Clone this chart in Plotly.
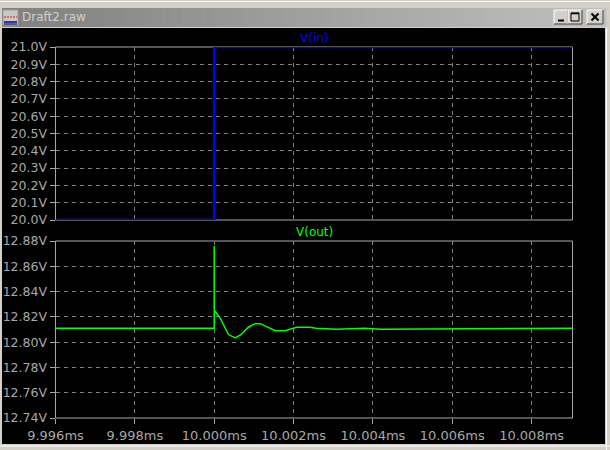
import plotly.graph_objects as go

# ---------------- data ----------------
t_in = [9.996, 10.0, 10.0, 10.00903]          # ms
v_in = [20.0, 20.0, 21.0, 21.0]               # V

t_out = [9.996, 10.0, 10.0, 10.0, 10.00003, 10.00015, 10.00028, 10.00036,
         10.00053, 10.00066, 10.00086, 10.00103, 10.00116, 10.00133,
         10.00154, 10.00179, 10.00200, 10.00208, 10.00242, 10.00257,
         10.00309, 10.00378, 10.00421, 10.00903]
v_out = [12.811, 12.811, 12.876, 12.825, 12.824, 12.819, 12.811, 12.806,
         12.8033, 12.8057, 12.8118, 12.8146, 12.8146, 12.8123,
         12.8091, 12.8091, 12.811, 12.8118, 12.8118, 12.811,
         12.8102, 12.811, 12.8102, 12.811]

x_tickvals = [9.996, 9.998, 10.000, 10.002, 10.004, 10.006, 10.008]
x_ticktext = ["9.996ms", "9.998ms", "10.000ms", "10.002ms", "10.004ms",
              "10.006ms", "10.008ms"]
yin_tickvals = [20.0, 20.1, 20.2, 20.3, 20.4, 20.5, 20.6, 20.7, 20.8, 20.9, 21.0]
yin_ticktext = ["20.0V", "20.1V", "20.2V", "20.3V", "20.4V", "20.5V",
                "20.6V", "20.7V", "20.8V", "20.9V", "21.0V"]
yout_tickvals = [12.74, 12.76, 12.78, 12.80, 12.82, 12.84, 12.86, 12.88]
yout_ticktext = ["12.74V", "12.76V", "12.78V", "12.80V", "12.82V",
                 "12.84V", "12.86V", "12.88V"]

W, H = 610, 450
FONT = "DejaVu Sans"
LBL = "#A8A8A8"
GRID = "#808080"


def fx(x):
    return x / W


def fy(y):
    return 1 - y / H


fig = go.Figure()
fig.add_trace(go.Scatter(x=t_in, y=v_in, mode="lines",
                         line=dict(color="#0000FF", width=2.5),
                         xaxis="x", yaxis="y", showlegend=False))
fig.add_trace(go.Scatter(x=t_out, y=v_out, mode="lines",
                         line=dict(color="#00FF00", width=1.5),
                         xaxis="x2", yaxis="y2", showlegend=False))

PL, PR = 55.5, 572.5
T1, B1 = 47, 220
T2, B2 = 241, 418
xdom = [fx(PL), fx(PR)]
common_x = dict(range=[9.996, 10.00903], domain=xdom, tickvals=x_tickvals,
                showgrid=True, gridcolor=GRID, griddash="4px,4px", gridwidth=1,
                showline=False, zeroline=False, automargin=False,
                tickfont=dict(family=FONT, size=13, color=LBL))
common_y = dict(showgrid=True, gridcolor=GRID, griddash="4px,4px", gridwidth=1,
                showline=False, zeroline=False, ticks="outside",
                ticklen=5, tickcolor=LBL, automargin=False,
                tickfont=dict(family=FONT, size=12.5, color=LBL))

fig.update_layout(
    width=W, height=H, autosize=False,
    margin=dict(l=0, r=0, t=0, b=0, pad=0),
    paper_bgcolor="#D4D0C8",
    plot_bgcolor="rgba(0,0,0,0)",
    xaxis=dict(common_x, anchor="y", showticklabels=False, ticks=""),
    yaxis=dict(common_y, anchor="x", domain=[fy(B1), fy(T1)], range=[20.0, 21.0],
               tickvals=yin_tickvals, ticktext=yin_ticktext),
    xaxis2=dict(common_x, anchor="y2", ticktext=x_ticktext, ticks="outside",
                ticklen=5, tickcolor=LBL),
    yaxis2=dict(common_y, anchor="x2", domain=[fy(B2), fy(T2)], range=[12.74, 12.88],
                tickvals=yout_tickvals, ticktext=yout_ticktext),
)

shapes = []
# black client area
shapes.append(dict(type="rect", xref="paper", yref="paper", layer="below",
                   x0=fx(2), x1=fx(605), y0=fy(444), y1=fy(28),
                   fillcolor="#000000", line=dict(width=0)))
# plot frames (drawn below traces)
for t, b in [(T1, B1), (T2, B2)]:
    shapes.append(dict(type="rect", xref="paper", yref="paper", layer="below",
                       x0=fx(PL), x1=fx(PR), y0=fy(b), y1=fy(t),
                       line=dict(color=LBL, width=1)))
# window frame highlight lines
shapes.append(dict(type="line", xref="paper", yref="paper", layer="below",
                   x0=0, x1=1, y0=fy(1.5), y1=fy(1.5),
                   line=dict(color="#FFFFFF", width=1)))
shapes.append(dict(type="line", xref="paper", yref="paper", layer="below",
                   x0=0, x1=1, y0=fy(446), y1=fy(446),
                   line=dict(color="#FFFFFF", width=1)))
shapes.append(dict(type="line", xref="paper", yref="paper", layer="below",
                   x0=fx(606.5), x1=fx(606.5), y0=0, y1=fy(28),
                   line=dict(color="#FFFFFF", width=1)))
# title bar gradient (inactive window)
n = 60
x_start, x_end = 2, 606
for i in range(n):
    a = i / (n - 1)
    c = int(128 + (192 - 128) * a)
    xa = x_start + (x_end - x_start) * i / n
    xb = x_start + (x_end - x_start) * (i + 1) / n + 0.5
    shapes.append(dict(type="rect", xref="paper", yref="paper", layer="below",
                       x0=fx(xa), x1=fx(xb), y0=fy(27), y1=fy(8),
                       fillcolor=f"rgb({c},{c},{c})", line=dict(width=0)))
# window buttons
for bx0, bx1 in [(554, 568), (568, 582), (587, 603)]:
    shapes.append(dict(type="rect", xref="paper", yref="paper", layer="above",
                       x0=fx(bx0), x1=fx(bx1), y0=fy(24), y1=fy(10),
                       fillcolor="#D4D0C8", line=dict(width=0)))
    shapes.append(dict(type="path", xref="paper", yref="paper", layer="above",
                       path=f"M {fx(bx0)},{fy(24)} L {fx(bx0)},{fy(10)} L {fx(bx1)},{fy(10)}",
                       line=dict(color="#FFFFFF", width=1)))
    shapes.append(dict(type="path", xref="paper", yref="paper", layer="above",
                       path=f"M {fx(bx0)},{fy(24)} L {fx(bx1)},{fy(24)} L {fx(bx1)},{fy(10)}",
                       line=dict(color="#404040", width=1)))
# minimize glyph
shapes.append(dict(type="line", xref="paper", yref="paper", layer="above",
                   x0=fx(558), x1=fx(564), y0=fy(20.5), y1=fy(20.5),
                   line=dict(color="#000000", width=2)))
# maximize glyph
shapes.append(dict(type="rect", xref="paper", yref="paper", layer="above",
                   x0=fx(571), x1=fx(579), y0=fy(21), y1=fy(13),
                   line=dict(color="#000000", width=1)))
shapes.append(dict(type="line", xref="paper", yref="paper", layer="above",
                   x0=fx(571), x1=fx(579), y0=fy(13.5), y1=fy(13.5),
                   line=dict(color="#000000", width=1.5)))
# close glyph
shapes.append(dict(type="line", xref="paper", yref="paper", layer="above",
                   x0=fx(591.5), x1=fx(598.5), y0=fy(13.5), y1=fy(20.5),
                   line=dict(color="#000000", width=2)))
shapes.append(dict(type="line", xref="paper", yref="paper", layer="above",
                   x0=fx(591.5), x1=fx(598.5), y0=fy(20.5), y1=fy(13.5),
                   line=dict(color="#000000", width=2)))
# icon
shapes.append(dict(type="rect", xref="paper", yref="paper", layer="above",
                   x0=fx(3), x1=fx(18), y0=fy(25), y1=fy(10),
                   fillcolor="#C8C8C8", line=dict(color="#9A9A9A", width=1)))
shapes.append(dict(type="line", xref="paper", yref="paper", layer="above",
                   x0=fx(4), x1=fx(17), y0=fy(17), y1=fy(17),
                   line=dict(color="#FF0000", width=1, dash="2px,1px")))
shapes.append(dict(type="line", xref="paper", yref="paper", layer="above",
                   x0=fx(4), x1=fx(17), y0=fy(22), y1=fy(22),
                   line=dict(color="#0000C0", width=1.5)))
shapes.append(dict(type="line", xref="paper", yref="paper", layer="above",
                   x0=fx(4), x1=fx(17), y0=fy(24), y1=fy(24),
                   line=dict(color="#000000", width=1)))
fig.update_layout(shapes=shapes)

annotations = [
    dict(text="Draft2.raw", xref="paper", yref="paper", x=fx(20), y=fy(17.5),
         xanchor="left", yanchor="middle", showarrow=False,
         font=dict(family=FONT, size=12, color="#D4D0C8")),
    dict(text="V(in)", xref="paper", yref="paper", x=fx(314), y=fy(38),
         xanchor="center", yanchor="middle", showarrow=False,
         font=dict(family=FONT, size=12, color="#0000FF")),
    dict(text="V(out)", xref="paper", yref="paper", x=fx(314), y=fy(232),
         xanchor="center", yanchor="middle", showarrow=False,
         font=dict(family=FONT, size=12, color="#00FF00")),
]
fig.update_layout(annotations=annotations)

fig.write_html("out.html", config={"displayModeBar": False},
               post_script="document.body.style.margin='0';document.body.style.padding='0';")
